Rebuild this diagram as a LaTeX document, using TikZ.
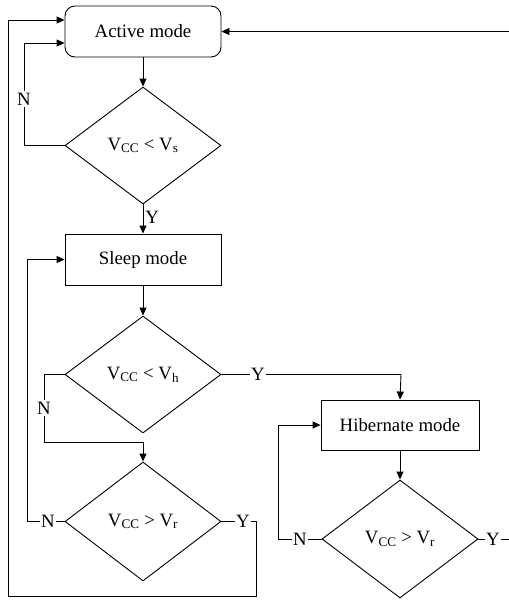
\documentclass[tikz,border=0pt]{standalone}
\usepackage{fontspec}
\setmainfont{Liberation Serif}
\usetikzlibrary{shapes.geometric,arrows.meta,calc}
\begin{document}
\begin{tikzpicture}[x=1pt,y=-1pt,
  every node/.style={font=\fontsize{18.8}{22}\selectfont},
  box/.style={draw,line width=0.9pt,minimum width=156pt,minimum height=51pt,inner sep=0pt},
  dia/.style={draw,line width=0.9pt,diamond,minimum width=156pt,minimum height=117pt,inner sep=0pt},
  lbl/.style={fill=white,inner sep=1.5pt},
  conn/.style={line width=0.9pt},
  arr/.style={conn,-{Triangle[length=8pt,width=7pt]}}]
\useasboundingbox (0,0) rectangle (509,603);
\node[box,rounded corners=10pt] (active) at (143,31.5) {Active mode};
\node[dia] (d1) at (143,145.5) {V\textsubscript{CC} < V\textsubscript{s}};
\node[box] (sleep) at (143,259.5) {Sleep mode};
\node[dia] (d2) at (143,374.5) {V\textsubscript{CC} < V\textsubscript{h}};
\node[dia,minimum height=119pt] (d3) at (143,521.5) {V\textsubscript{CC} > V\textsubscript{r}};
\node[box,minimum width=158pt,minimum height=50pt] (hib) at (400,425) {Hibernate mode};
\node[dia,minimum height=118pt] (d4) at (400,539) {V\textsubscript{CC} > V\textsubscript{r}};
% coordinates
\coordinate (rin) at (509,31.5);
\coordinate (ra) at (509,539);
% connectors
\draw[arr] (rin) -- (active.east);
\draw[arr] (active.south) -- (d1.north);
\draw[arr] (d1.south) -- node[right,inner sep=2pt,pos=0.45] (y1) {Y} (sleep.north);
\draw[arr] (sleep.south) -- (d2.north);
\draw[arr] (hib.south) -- (d4.north);
% N loop d1 -> active
\draw[arr] (d1.west) -- (24,145.5) -- (24,43) -- ($(active.west)+(0,11.5)$);
\node[lbl] (n1) at (24,99) {N};
% outer loop from d3 Y
\draw[arr] (d3.east) -- (256,521.5) -- (256,596) -- (8,596) -- (8,20) -- ($(active.west)+(0,-11.5)$);
\node[lbl] (y3) at (243,521.5) {Y};
% d3 N -> sleep
\draw[arr] (d3.west) -- (27,521.5) -- (27,259.5) -- (sleep.west);
\node[lbl] (n3) at (48,521.5) {N};
% d2 Y -> hib
\draw[arr] (d2.east) -- (401,374.5) -- (hib.north);
\node[lbl] (y2) at (258,374.5) {Y};
% d2 N -> d3
\draw[arr] (d2.west) -- (44,374.5) -- (44,442) -- (143,442) -- (d3.north);
\node[lbl] (n2) at (44,408) {N};
% d4 N -> hib
\draw[arr] (d4.west) -- (278,539) -- (278,425) -- (hib.west);
\node[lbl] (n4) at (300,539) {N};
% d4 Y
\draw[conn] (d4.east) -- (ra);
\node[lbl] (y4) at (493,539) {Y};
\end{tikzpicture}
\end{document}
